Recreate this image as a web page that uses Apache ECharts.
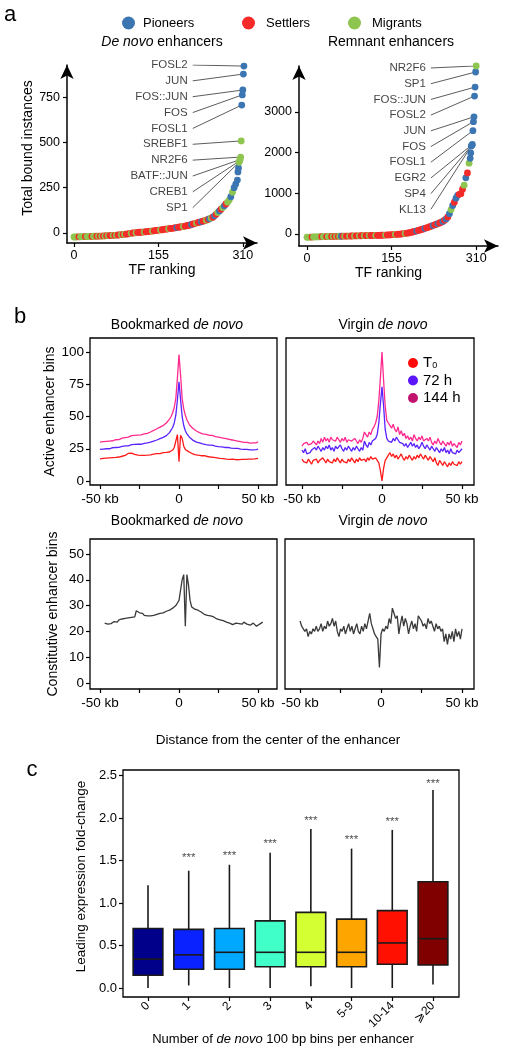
<!DOCTYPE html>
<html><head><meta charset="utf-8">
<script src="https://cdn.jsdelivr.net/npm/echarts@6/dist/echarts.min.js"></script>
<style>html,body{margin:0;padding:0;background:#fff}#c{width:511px;height:1050px}</style>
</head><body><div id="c"></div>
<script>
// ---------- Panel a data ----------
const deNovoRanks = [0,3,6,9,12,15,18,21,24,27,
30,33,36,39,42,45,48,51,54,57,
60,63,66,69,72,75,78,81,84,87,
90,93,96,99,102,105,108,111,114,117,
120,123,126,129,132,135,138,141,144,147,
150,153,156,159,162,165,168,171,174,177,
180,183,186,189,192,195,198,201,204,207,
210,213,216,219,222,225,228,231,234,237,
240,243,246,249,252,255,258,261,264,267,
270,273,276,279,282,285,288,291,294,297,300,
301,302,303,304,305,306,307,308,309,310,311,312];
const deNovoValues = [-22,-22,-21,-21,-21,-20,-20,-20,-20,-19,
-19,-19,-18,-18,-18,-17,-17,-17,-16,-16,
-15,-15,-14,-14,-13,-13,-12,-11,-10,-9,
-8,-7,-6,-5,-3,-2,0,1,2,3,
4,4,5,6,7,8,9,10,11,12,
14,15,16,17,18,20,21,22,24,25,
26,27,29,30,32,33,35,36,38,40,
42,44,47,50,52,55,58,60,62,65,
68,71,75,79,83,87,95,103,113,122,
131,140,150,160,170,182,200,225,250,270,292,
337,359,390,398,405,419,508,706,762,789,877,921];
const deNovoGroups = ('MMMSMMMSMM'+'MSMMSMSMSM'+'SMSSMSMSSM'+'SMSSSMSSMS'+'SSSMSSSSMS'+
  'SSSMSSSSMS'+'SSSPSSSMSS'+'SSPSSMSSPS'+'SMSPMSPSMP'+'SMPSMMPMPPP'+'PPMMMMMPPPPP').split('');

const remnantRanks = [0,3,6,9,12,15,18,21,24,27,
30,33,36,39,42,45,48,51,54,57,
60,63,66,69,72,75,78,81,84,87,
90,93,96,99,102,105,108,111,114,117,
120,123,126,129,132,135,138,141,144,147,
150,153,156,159,162,165,168,171,174,177,
180,183,186,189,192,195,198,201,204,207,
210,213,216,219,222,225,228,231,234,237,
240,243,246,249,252,255,258,261,264,267,
270,273,276,279,282,285,288,291,294,297,
299,300,301,302,303,304,305,306,307,308,309,310];
const remnantValues = [-80,-78,-76,-75,-73,-72,-70,-69,-68,-67,
-66,-65,-64,-63,-62,-61,-60,-59,-58,-57,
-56,-55,-54,-53,-52,-51,-50,-49,-48,-47,
-46,-45,-44,-43,-42,-41,-40,-39,-38,-37,
-36,-35,-34,-33,-32,-31,-30,-28,-26,-24,
-22,-20,-17,-14,-11,-8,-5,-2,2,8,
14,20,27,35,45,55,65,75,88,100,
112,125,140,152,165,180,195,210,225,240,
255,270,290,310,340,370,420,500,600,700,
780,880,950,975,990,1100,1200,1380,1500,1740,
1860,1990,2160,2180,2200,2540,2760,2880,3390,3610,3980,4130];
const remnantGroups = ('MMMSMMMMMS'+'MMSMMSMSMS'+'MPSMSSMSSM'+'SSMSSMSSMS'+'SSMSSSSSMS'+
  'SSSSMSSSSS'+'MSSSSSSPSS'+'SSPSSSSPSS'+'PSSPSPSPMP'+'SPPSSSMPSM'+'PPPPPPPPPPPM').split('');

const deNovoLabels = ['FOSL2','JUN','FOS::JUN','FOS','FOSL1','SREBF1','NR2F6','BATF::JUN','CREB1','SP1'];
const deNovoLabelRanks = [312,311,310,309,308,307,306,305,304,303];
const remnantLabels = ['NR2F6','SP1','FOS::JUN','FOSL2','JUN','FOS','FOSL1','EGR2','SP4','KL13'];
const remnantLabelRanks = [310,309,308,307,306,305,304,303,302,301];
const rankTicks = [0,155,310];
const deNovoTicks = [0,250,500,750];
const remnantTicks = [0,1000,2000,3000];

// ---------- Panel b data ----------
const kb = [-50,-49,-48,-47,-46,-45,-44,-43,-42,-41,-40,-39,-38,-37,-36,-35,-34,-33,-32,-31,
-30,-29,-28,-27,-26,-25,-24,-23,-22,-21,-20,-19,-18,-17,-16,-15,-14,-13,-12,-11,
-10,-9,-8,-7,-6,-5,-4,-3,-2,-1,0,1,2,3,4,5,6,7,8,9,
10,11,12,13,14,15,16,17,18,19,20,21,22,23,24,25,26,27,28,29,
30,31,32,33,34,35,36,37,38,39,40,41,42,43,44,45,46,47,48,49,50];
const kbShift = [-47,-46,-45,-44,-43,-42,-41,-40,-39,-38,-37,-36,-35,-34,-33,-32,-31,-30,-29,-28,
-27,-26,-25,-24,-23,-22,-21,-20,-19,-18,-17,-16,-15,-14,-13,-12,-11,-10,-9,-8,
-7,-6,-5,-4,-3,-2,-1,0,1,2,3,4,5,6,7,8,9,10,11,12,
13,14,15,16,17,18,19,20,21,22,23,24,25,26,27,28,29,30,31,32,
33,34,35,36,37,38,39,40,41,42,43,44,45,46,47,48,49,50,51,52,53];
const bookT144 = [30.2,30.0,30.5,30.3,30.8,30.6,31.0,31.4,31.2,31.8,
32.0,32.3,32.1,32.8,33.2,33.0,33.6,34.2,34.0,34.8,
35.2,34.9,35.4,35.1,35.6,36.0,35.7,36.2,36.5,36.3,
37.0,37.4,38.0,38.5,39.2,40.0,40.5,41.0,41.8,42.5,
43.0,44.0,45.0,46.5,48.0,50.0,53.0,57.0,64.0,80.0,
98.0,82.0,64.0,56.0,51.0,47.5,45.0,43.0,41.5,40.5,
39.5,38.8,38.0,37.5,37.0,36.5,36.8,36.2,35.8,35.5,
35.2,35.4,34.8,34.5,34.2,34.0,33.8,33.5,33.2,33.0,
32.8,32.5,32.2,32.0,31.8,31.5,31.2,31.0,30.8,30.5,
30.2,30.0,29.8,30.0,29.6,29.4,29.8,29.5,29.2,29.6,30.5];
const bookT72 = [24.5,24.3,24.8,24.6,25.0,25.2,25.0,25.5,25.8,25.6,
26.0,26.3,26.1,26.6,26.9,26.7,27.2,27.5,27.3,27.8,
28.2,28.0,28.4,28.2,28.6,28.8,28.5,29.0,29.2,29.0,
29.5,29.8,30.2,30.5,31.0,31.5,31.8,32.2,32.8,33.2,
33.8,34.5,35.2,36.2,37.5,39.0,41.5,45.0,51.0,63.0,
77.0,63.0,50.0,43.0,39.0,36.5,35.0,33.5,32.5,31.5,
30.8,30.2,29.8,29.5,29.0,28.8,28.5,28.2,28.0,27.8,
27.6,27.8,27.3,27.0,26.8,26.6,26.8,26.4,26.2,26.0,
25.9,26.1,25.7,25.5,25.6,25.3,25.1,25.3,25.0,24.8,
24.9,24.6,24.4,24.6,24.3,24.2,24.5,24.2,24.0,24.4,24.8];
const bookT0 = [17.2,17.0,17.5,17.3,17.8,17.6,18.0,17.7,18.2,18.5,
18.3,18.8,18.6,19.0,19.2,19.5,19.8,20.5,21.5,22.0,
21.6,21.0,20.6,20.3,20.0,20.2,19.8,20.1,19.9,20.3,
20.0,20.4,20.2,20.6,20.8,21.0,21.2,21.5,21.3,21.8,
22.0,21.8,22.2,22.0,22.5,23.0,24.0,26.0,31.0,36.0,
15.0,35.5,33.0,27.0,24.5,23.5,22.8,22.0,21.5,21.0,
20.5,20.2,20.0,19.8,19.6,19.4,19.6,19.2,19.0,18.8,
18.6,18.8,18.4,18.2,18.0,17.8,17.6,17.9,17.4,17.2,
17.0,17.3,16.8,16.6,16.9,16.7,16.5,16.8,16.6,16.4,
16.7,16.5,16.8,16.6,16.9,16.7,17.0,16.8,17.1,17.4,17.6];
const virgT144 = [27,29,28,30,28,27,29,31,30,28,
31,29,33,30,34,31,33,30,34,32,
33,31,34,32,30,33,31,34,30,32,
33,31,30,33,31,29,32,30,33,38,
36,34,38,36,40,42,45,50,62,80,
100,78,58,47,45,43,41,44,40,38,
42,36,39,35,37,33,35,32,34,31,
36,33,31,34,32,35,31,30,33,31,
34,30,28,31,29,33,30,28,31,29,
27,30,28,31,27,29,28,26,30,28,31];
const virgT72 = [24,22,25,21,20,22,24,23,26,24,
27,25,23,26,24,27,25,28,24,26,
23,27,25,24,28,25,23,26,24,27,
25,23,26,24,27,25,23,26,24,31,
28,26,30,28,31,30,33,36,45,60,
73,58,40,33,31,32,30,33,31,34,
32,30,31,29,27,29,26,28,30,27,
29,26,28,25,27,30,27,25,28,26,
24,27,25,23,26,24,22,25,23,26,
22,24,21,25,22,23,21,24,22,23,25];
const virgT0 = [17,15,16,14,17,15,13,16,15,17,
14,16,15,18,16,14,17,15,16,14,
17,15,18,16,14,17,15,16,14,17,
15,18,16,14,17,15,18,16,15,17,
15,18,16,19,17,16,18,17,14,8,
0,10,16,18,20,22,19,21,18,20,
17,19,21,18,16,19,17,20,18,16,
19,17,20,18,21,19,17,20,18,16,
19,17,15,18,14,12,16,14,12,15,
13,11,14,12,15,13,14,12,15,13,15];
const constBook = [23.2,23.0,22.8,23.5,23.0,22.6,23.8,24.0,23.6,24.5,
24.2,24.8,24.4,25.0,24.6,25.2,24.8,25.4,25.0,25.6,
28.0,27.6,27.2,26.6,27.0,26.2,26.6,26.0,26.4,26.0,
26.5,26.2,26.0,26.6,26.3,27.0,26.8,27.2,27.5,27.8,
28.0,28.2,28.6,29.0,29.5,30.0,31.0,32.0,36.0,40.0,
42.0,22.0,42.0,38.0,32.0,29.5,28.8,28.6,28.8,28.2,
27.8,27.5,27.2,26.6,27.0,26.2,25.8,26.0,25.4,25.6,
25.0,24.8,25.0,24.5,24.6,24.2,24.0,23.6,23.8,23.2,
23.0,22.6,22.8,23.2,22.6,23.0,23.4,22.8,23.6,23.2,
22.8,23.0,22.4,22.8,23.2,22.6,22.0,22.4,22.8,23.2,23.6];
const constVirg = [24,22,21,20,21,18,20,19,21,20,
22,20,21,23,20,22,21,24,22,23,
25,22,24,20,18,21,20,22,19,21,
23,20,22,19,21,23,20,19,22,20,
23,21,24,27,23,21,19,18,17,6,
19,21,20,22,21,25,23,29,27,25,
26,19,23,26,22,25,23,19,22,24,
21,23,20,26,25,24,22,23,21,25,
23,24,22,20,23,21,22,20,21,16,
19,15,19,17,20,16,21,18,20,17,21];
const kbTicks = [-50,-25,0,25,50];
const kbLabels = [-50,0,50];
const activeTicks = [0,25,50,75,100];
const constTicks = [0,10,20,30,40,50];

// ---------- Panel c data ----------
const boxCats = ['0','1','2','3','4','5-9','10-14','\u2A7E20'];
const boxMin = [0.00,0.03,0.00,0.00,0.02,0.00,0.00,0.04];
const boxQ1  = [0.15,0.22,0.22,0.25,0.25,0.25,0.28,0.27];
const boxMed = [0.34,0.39,0.42,0.42,0.42,0.42,0.53,0.58];
const boxQ3  = [0.70,0.69,0.70,0.79,0.89,0.81,0.91,1.25];
const boxMax = [1.21,1.38,1.45,1.59,1.87,1.64,1.86,2.33];
const starCats = ['1','2','3','4','5-9','10-14','\u2A7E20'];
const starVals = [1.53,1.555,1.695,1.965,1.745,1.955,2.405];
const foldTicks = [0,0.5,1,1.5,2,2.5];

// ---------- styling ----------
const F = "'Liberation Sans', Arial, Helvetica, sans-serif";
const GC = {P:'#3B76B2', S:'#F72A2A', M:'#8DC54F'};
const boxColors = ['#00008B','#0A22FF','#00A8FF','#40FFC8','#D4FF33','#FFA500','#FF1000','#800000'];
const lineCol = {T0:'#FF1A1A', h72:'#5A22FF', h144:'#FF2A8F'};
const catIdx = boxCats.map((c, i) => i);

const chart = echarts.init(document.getElementById('c'));

function txt(x, y, text, size, extra) {
  return {type:'text', x:x, y:y, silent:true,
    style:Object.assign({text:text, fontSize:size, fontFamily:F, fill:'#000',
      textAlign:'center', textVerticalAlign:'middle', align:'center', verticalAlign:'middle'}, extra || {})};
}
function richItal(x, y, text, size) {
  return txt(x, y, text, size, {rich:{i:{fontStyle:'italic', fontSize:size, fontFamily:F, fill:'#000'}, n:{fontSize:size, fontFamily:F, fill:'#000'}}});
}

const axisLineArrow = {show:true, onZero:false, symbol:['none','arrow'], symbolSize:[10,14], lineStyle:{color:'#000', width:1.5}};
const tickStyle = {color:'#000', width:1.2};

function aX(gi, min, max) {
  return {type:'value', gridIndex:gi, min:min, max:max, axisLine:axisLineArrow,
    axisTick:{show:true, customValues:rankTicks, length:4, lineStyle:tickStyle},
    axisLabel:{customValues:rankTicks, fontSize:12.5, fontFamily:F, color:'#000', margin:6},
    splitLine:{show:false}, name:'TF ranking', nameLocation:'middle', nameGap:18,
    nameTextStyle:{fontSize:14, fontFamily:F, color:'#000', padding: gi===1 ? [0,20,0,0] : [0,0,0,0]}};
}
function aY(gi, min, max, ticks, name) {
  const o = {type:'value', gridIndex:gi, min:min, max:max, axisLine:axisLineArrow,
    axisTick:{show:true, customValues:ticks, length:4, lineStyle:tickStyle},
    axisLabel:{customValues:ticks, fontSize:12.5, fontFamily:F, color:'#000', margin:7, formatter:v => String(v)},
    splitLine:{show:false}};
  if (name) Object.assign(o, {name:name, nameLocation:'middle', nameGap:32, nameRotate:90,
    nameTextStyle:{fontSize:14, fontFamily:F, color:'#000', padding:[0,0,0,12]}});
  return o;
}
function bX(gi, min, max) {
  return {type:'value', gridIndex:gi, min:min, max:max, axisLine:{show:false, onZero:false},
    axisTick:{show:true, customValues:kbTicks, length:4, lineStyle:tickStyle},
    axisLabel:{customValues:kbLabels, fontSize:13.5, fontFamily:F, color:'#000', margin:7,
      formatter:v => v === 0 ? '0' : (v + ' kb')},
    splitLine:{show:false}};
}
function bY(gi, min, max, ticks, name, show) {
  const o = {type:'value', gridIndex:gi, min:min, max:max, axisLine:{show:false, onZero:false},
    axisTick:{show:show, customValues:ticks, length:4, lineStyle:tickStyle},
    axisLabel:{show:show, customValues:ticks, fontSize:13.5, fontFamily:F, color:'#000', margin:6},
    splitLine:{show:false}};
  if (name) Object.assign(o, {name:name, nameLocation:'middle', nameGap:name.length > 22 ? 30 : 33, nameRotate:90,
    nameTextStyle:{fontSize:14, fontFamily:F, color:'#000'}});
  return o;
}

function dots(ranks, vals, groups, xi) {
  return {type:'scatter', xAxisIndex:xi, yAxisIndex:xi, symbolSize:6.8, clip:false, z:3,
    data: ranks.map((r, i) => ({value:[r, vals[i]], itemStyle:{color:GC[groups[i]], opacity:1}}))};
}
function leaders(labels, lranks, ranks, vals, xi, startRank, top, step) {
  const lines = {type:'lines', coordinateSystem:'cartesian2d', xAxisIndex:xi, yAxisIndex:xi, z:2, silent:true,
    lineStyle:{color:'#4a4a4a', width:0.9, opacity:1},
    data: labels.map((n, i) => ({coords:[[startRank, top - i*step], [lranks[i], vals[ranks.indexOf(lranks[i])]]]}))};
  const anchors = {type:'scatter', xAxisIndex:xi, yAxisIndex:xi, symbolSize:0, clip:false, silent:true, z:4,
    label:{show:true, position:'left', distance:5, formatter:'{b}', fontSize:11.5, fontFamily:F, color:'#111'},
    data: labels.map((n, i) => ({name:n, value:[startRank, top - i*step]}))};
  return [lines, anchors];
}
function line(name, xs, ys, xi, color) {
  return {type:'line', name:name, xAxisIndex:xi, yAxisIndex:xi, showSymbol:false, symbol:'none', silent:true,
    lineStyle:{color:color, width:1.3}, itemStyle:{color:color},
    data: xs.map((x, i) => [x, ys[i]])};
}

const boxGrid = {show:true, borderColor:'#000', borderWidth:1.3};

const option = {
  animation:false,
  backgroundColor:'#fff',
  textStyle:{fontFamily:F},
  grid:[
    {left:67, top:65, width:190, height:178},
    {left:299, top:66, width:199, height:180},
    Object.assign({left:90, top:338, width:187, height:147}, boxGrid),
    Object.assign({left:286, top:338, width:188, height:147}, boxGrid),
    Object.assign({left:90, top:539, width:187, height:150}, boxGrid),
    Object.assign({left:285, top:539, width:189, height:150}, boxGrid),
    Object.assign({left:123, top:770, width:336, height:227}, boxGrid)
  ],
  xAxis:[
    aX(0, -12.8, 336),
    aX(1, -14.7, 350),
    bX(2, -56.3, 62),
    bX(3, -60, 57.5),
    bX(4, -56.3, 62),
    bX(5, -59.3, 57.4),
    {type:'value', gridIndex:6, min:-0.614, max:7.639, axisLine:{show:false, onZero:false},
      axisTick:{show:true, customValues:catIdx, length:4, lineStyle:tickStyle},
      axisLabel:{customValues:catIdx, rotate:45, fontSize:12, fontFamily:"'Liberation Sans', 'DejaVu Sans', sans-serif", color:'#000', margin:7,
        formatter:v => boxCats[Math.round(v)]},
      splitLine:{show:false}}
  ],
  yAxis:[
    aY(0, -55.2, 927, deNovoTicks, 'Total bound instances'),
    aY(1, -295, 4128, remnantTicks, null),
    bY(2, -3.1, 110.9, activeTicks, 'Active enhancer bins', true),
    bY(3, -3.1, 110.9, activeTicks, null, false),
    bY(4, -2.33, 55.8, constTicks, 'Constitutive enhancer bins', true),
    bY(5, -2.33, 55.8, constTicks, null, false),
    {type:'value', gridIndex:6, min:-0.106, max:2.565, axisLine:{show:false, onZero:false},
      axisTick:{show:true, customValues:foldTicks, length:4, lineStyle:tickStyle},
      axisLabel:{customValues:foldTicks, fontSize:13, fontFamily:F, color:'#000', margin:6, formatter:v => v.toFixed(1)},
      splitLine:{show:false}, name:'Leading expression fold-change', nameLocation:'middle', nameGap:23, nameRotate:90,
      nameTextStyle:{fontSize:13.5, fontFamily:F, color:'#000', padding:[0,0,0,14]}}
  ],
  legend:[
    {data:['Pioneers'], left:117, top:11.5, icon:'circle', itemWidth:13, itemHeight:13, selectedMode:false,
      textStyle:{fontSize:13, fontFamily:F, color:'#000', padding:[0,0,0,3]}},
    {data:['Settlers'], left:237, top:11.5, icon:'circle', itemWidth:13, itemHeight:13, selectedMode:false,
      textStyle:{fontSize:13, fontFamily:F, color:'#000', padding:[0,0,0,6]}},
    {data:['Migrants'], left:343, top:11.5, icon:'circle', itemWidth:13, itemHeight:13, selectedMode:false,
      textStyle:{fontSize:13, fontFamily:F, color:'#000', padding:[0,0,0,6]}},
    {data:[{name:'T0', itemStyle:{color:'#FF0A0A'}}, {name:'72 h', itemStyle:{color:'#5B16FF'}}, {name:'144 h', itemStyle:{color:'#C2136F'}}],
      orient:'vertical', left:403, top:350.5, icon:'circle', itemWidth:10, itemHeight:10, itemGap:2.5, selectedMode:false,
      formatter: n => n === 'T0' ? '{t|T}{s|0}' : '{t|' + n + '}',
      textStyle:{fontSize:15, fontFamily:F, color:'#000', lineHeight:15,
        rich:{t:{fontSize:15, fontFamily:F, color:'#000', lineHeight:15}, s:{fontSize:9, fontFamily:F, color:'#000', padding:[6,0,0,0], lineHeight:15}}}}
  ],
  graphic:[
    txt(10, 15, 'a', 22),
    txt(20, 317, 'b', 22),
    txt(32, 770, 'c', 22),
    richItal(162, 42, '{i|De novo}{n| enhancers}', 14),
    txt(391, 42, 'Remnant enhancers', 14),
    richItal(177, 325, '{n|Bookmarked }{i|de novo}', 14),
    richItal(383, 325, '{n|Virgin }{i|de novo}', 14),
    richItal(177, 521, '{n|Bookmarked }{i|de novo}', 14),
    richItal(383, 521, '{n|Virgin }{i|de novo}', 14),
    txt(278, 740, 'Distance from the center of the enhancer', 13.5),
    richItal(283, 1039, '{n|Number of }{i|de novo}{n| 100 bp bins per enhancer}', 13)
  ],
  series:[
    {name:'Pioneers', type:'scatter', xAxisIndex:0, yAxisIndex:0, data:[], itemStyle:{color:GC.P, opacity:1}},
    {name:'Settlers', type:'scatter', xAxisIndex:0, yAxisIndex:0, data:[], itemStyle:{color:GC.S, opacity:1}},
    {name:'Migrants', type:'scatter', xAxisIndex:0, yAxisIndex:0, data:[], itemStyle:{color:GC.M, opacity:1}},
    ...leaders(deNovoLabels, deNovoLabelRanks, deNovoRanks, deNovoValues, 0, 218, 927, 87.5),
    dots(deNovoRanks, deNovoValues, deNovoGroups, 0),
    ...leaders(remnantLabels, remnantLabelRanks, remnantRanks, remnantValues, 1, 227, 4079, 386),
    dots(remnantRanks, remnantValues, remnantGroups, 1),
    line('T0', kb, bookT0, 2, lineCol.T0),
    line('72 h', kb, bookT72, 2, lineCol.h72),
    line('144 h', kb, bookT144, 2, lineCol.h144),
    line('T0', kb, virgT0, 3, lineCol.T0),
    line('72 h', kb, virgT72, 3, lineCol.h72),
    line('144 h', kb, virgT144, 3, lineCol.h144),
    line('Constitutive bookmarked', kbShift, constBook, 4, '#3a3a3a'),
    line('Constitutive virgin', kb, constVirg, 5, '#3a3a3a'),
    {type:'custom', xAxisIndex:6, yAxisIndex:6, silent:true,
      data: boxCats.map((c, i) => [i, boxMin[i], boxQ1[i], boxMed[i], boxQ3[i], boxMax[i]]),
      encode:{x:0, y:[1,2,3,4,5]},
      renderItem:(params, api) => {
        const i = api.value(0);
        const pMin = api.coord([i, api.value(1)]);
        const pQ1 = api.coord([i, api.value(2)]);
        const pMed = api.coord([i, api.value(3)]);
        const pQ3 = api.coord([i, api.value(4)]);
        const pMax = api.coord([i, api.value(5)]);
        const w = api.size([1, 0])[0] * 0.73;
        const x = pMin[0];
        const st = {stroke:'#1a1a1a', lineWidth:1.6};
        return {type:'group', children:[
          {type:'line', shape:{x1:x, y1:pMax[1], x2:x, y2:pQ3[1]}, style:st},
          {type:'line', shape:{x1:x, y1:pQ1[1], x2:x, y2:pMin[1]}, style:st},
          {type:'rect', shape:{x:x - w/2, y:pQ3[1], width:w, height:pQ1[1] - pQ3[1]},
            style:{fill:boxColors[i], stroke:'#1a1a1a', lineWidth:1.6}},
          {type:'line', shape:{x1:x - w/2, y1:pMed[1], x2:x + w/2, y2:pMed[1]}, style:st}
        ]};
      }},
    {type:'scatter', xAxisIndex:6, yAxisIndex:6, symbolSize:0, silent:true,
      label:{show:true, position:'inside', formatter:'***', fontSize:11.5, fontFamily:F, color:'#222'},
      data: starCats.map((c, i) => [boxCats.indexOf(c), starVals[i]])}
  ]
};
chart.setOption(option);
</script></body></html>
